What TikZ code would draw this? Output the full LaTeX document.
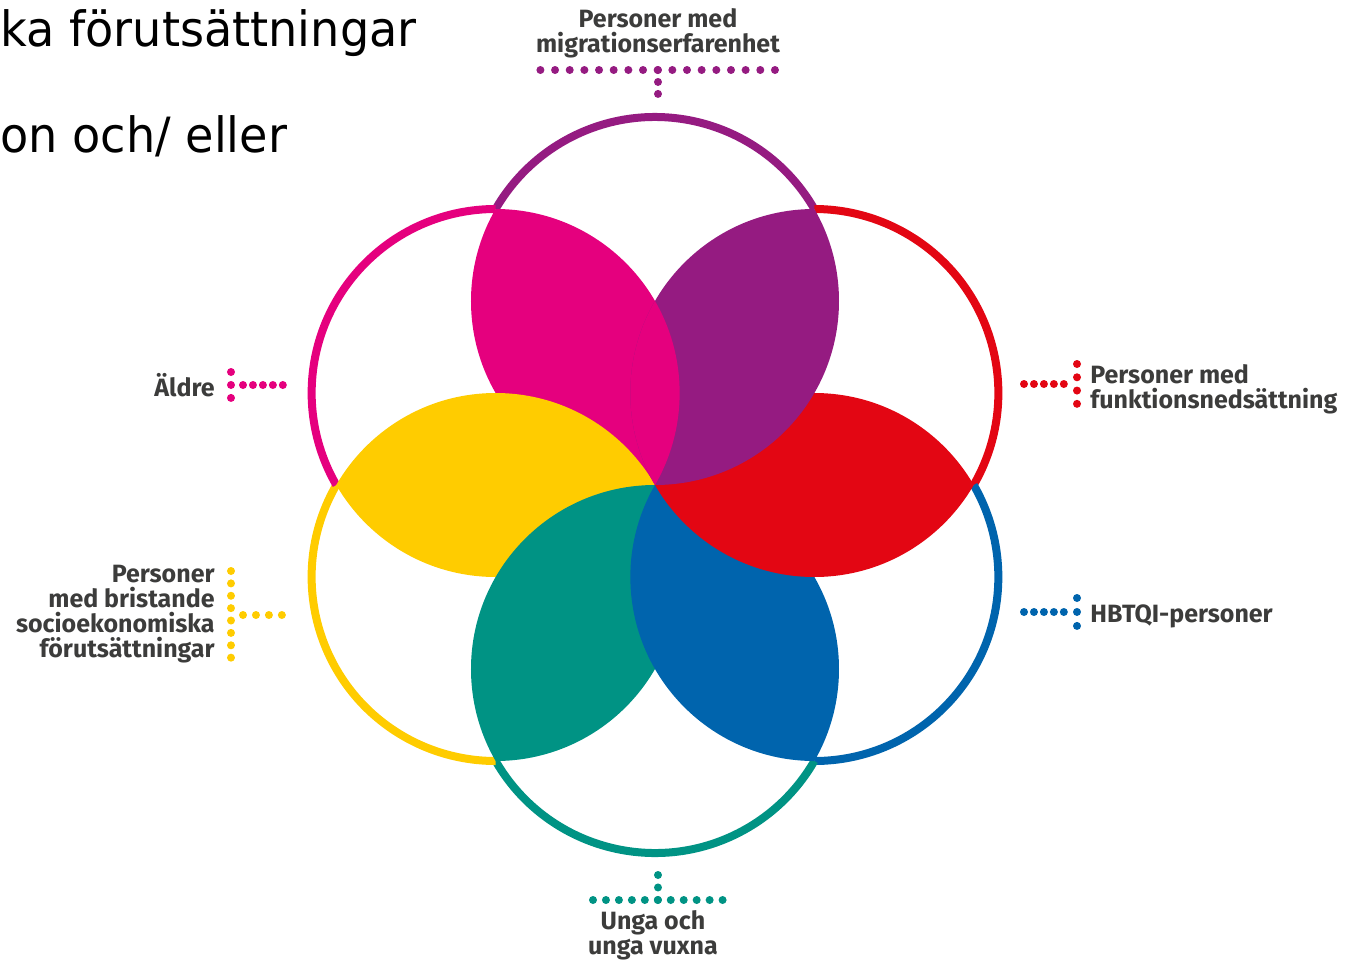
\documentclass[tikz,border=0pt]{standalone}
\usepackage{fontspec}
\setmainfont{Fira Sans}
\newfontfamily\slidefont{DejaVu Sans}[FakeStretch=0.95]
\usetikzlibrary{positioning}

\definecolor{flmagenta}{HTML}{E5007E}
\definecolor{flpurple}{HTML}{951B81}
\definecolor{flred}{HTML}{E30613}
\definecolor{flblue}{HTML}{0064AD}
\definecolor{flteal}{HTML}{009384}
\definecolor{flyellow}{HTML}{FFCC00}
\definecolor{fltext}{HTML}{3C3C3B}

\tikzset{
  ring/.style={line width=4pt},
  grouptext/.style={font=\bfseries\fontsize{12.5}{12.4}\selectfont, text=fltext, inner sep=0pt},
  slidetext/.style={font=\slidefont\fontsize{24.3}{24.3}\selectfont, text=black, inner sep=0pt},
  dotrow/.style={line width=4pt, line cap=round, dash pattern=on 0pt off #1}
}

\begin{document}
\begin{tikzpicture}[x=0.5pt, y=0.5pt]
\useasboundingbox (-655,-475) rectangle (710,485);

% outer rims of the six circles
\foreach \a/\c in {90/flpurple, 30/flred, -30/flblue, -90/flteal, -150/flyellow, 150/flmagenta}
  \draw[ring, draw=\c] (\a:184) ++(\a-60:184) arc[start angle=\a-60, end angle=\a+60, radius=184];

% lenses, each one over the next
\foreach \a/\c in {150/flmagenta, 210/flyellow, 270/flteal, 330/flblue, 30/flred, 90/flpurple}
{
  \begin{scope}
    \clip (\a:184) circle[radius=184];
    \fill[\c] (\a-60:184) circle[radius=184];
  \end{scope}
}
% magenta back over purple
\begin{scope}
  \clip (150:184) circle[radius=184];
  \clip (30:184) circle[radius=184];
  \fill[flmagenta] (90:184) circle[radius=184];
\end{scope}

% slide text
\node[slidetext, anchor=base west] (slide1) at (-655,438) {ka förutsättningar};
\node[slidetext, anchor=base west] (slide2) at (-655,333) {on och/ eller};

% group labels (base = last line)
\node[grouptext, anchor=base, align=center] (migr) at (3,433) {Personer med\\migrationserfarenhet};
\node[grouptext, anchor=base west, align=left] (funk) at (435,77) {Personer med\\funktionsnedsättning};
\node[grouptext, anchor=base west] (hbtqi) at (435,-137) {HBTQI-personer};
\node[grouptext, anchor=base east] (aldre) at (-440,89) {Äldre};
\node[grouptext, anchor=base east, align=right] (socio) at (-440,-172) {Personer\\med bristande\\socioekonomiska\\förutsättningar};
\node[grouptext, anchor=base, align=center] (unga) at (-2,-469) {Unga och\\unga vuxna};

% dotted leaders
\coordinate (migL) at (-114.6,415);
\coordinate (migR) at (120.6,415);
\coordinate (migC) at (3,415);
\coordinate (migD) at (3,391);
\draw[dotrow=7.33pt, flpurple] (migL) -- (migR);
\draw[dotrow=5.98pt, flpurple] (migC) -- (migD);

\coordinate (funkT) at (422,121);
\coordinate (funkB) at (422,81);
\coordinate (funkL) at (369,101);
\coordinate (funkR) at (409,101);
\draw[dotrow=6.64pt, flred] (funkT) -- (funkB);
\draw[dotrow=4.98pt, flred] (funkL) -- (funkR);

\coordinate (hbtqiT) at (422,-113);
\coordinate (hbtqiB) at (422,-141);
\coordinate (hbtqiL) at (369,-127);
\coordinate (hbtqiR) at (409,-127);
\draw[dotrow=6.98pt, flblue] (hbtqiT) -- (hbtqiB);
\draw[dotrow=4.98pt, flblue] (hbtqiL) -- (hbtqiR);

\coordinate (aldreT) at (-424,113);
\coordinate (aldreB) at (-424,87);
\coordinate (aldreL) at (-412,100);
\coordinate (aldreR) at (-372,100);
\draw[dotrow=6.48pt, flmagenta] (aldreT) -- (aldreB);
\draw[dotrow=4.98pt, flmagenta] (aldreL) -- (aldreR);

\coordinate (socioT) at (-424,-86);
\coordinate (socioB) at (-424,-173);
\coordinate (socioL) at (-412,-130);
\coordinate (socioR) at (-373,-130);
\draw[dotrow=6.19pt, flyellow] (socioT) -- (socioB);
\draw[dotrow=6.48pt, flyellow] (socioL) -- (socioR);

\coordinate (ungaT) at (3,-390);
\coordinate (ungaC) at (3,-415);
\coordinate (ungaL) at (-62,-415);
\coordinate (ungaR) at (68,-415);
\draw[dotrow=6.23pt, flteal] (ungaT) -- (ungaC);
\draw[dotrow=6.48pt, flteal] (ungaL) -- (ungaR);
\end{tikzpicture}
\end{document}
